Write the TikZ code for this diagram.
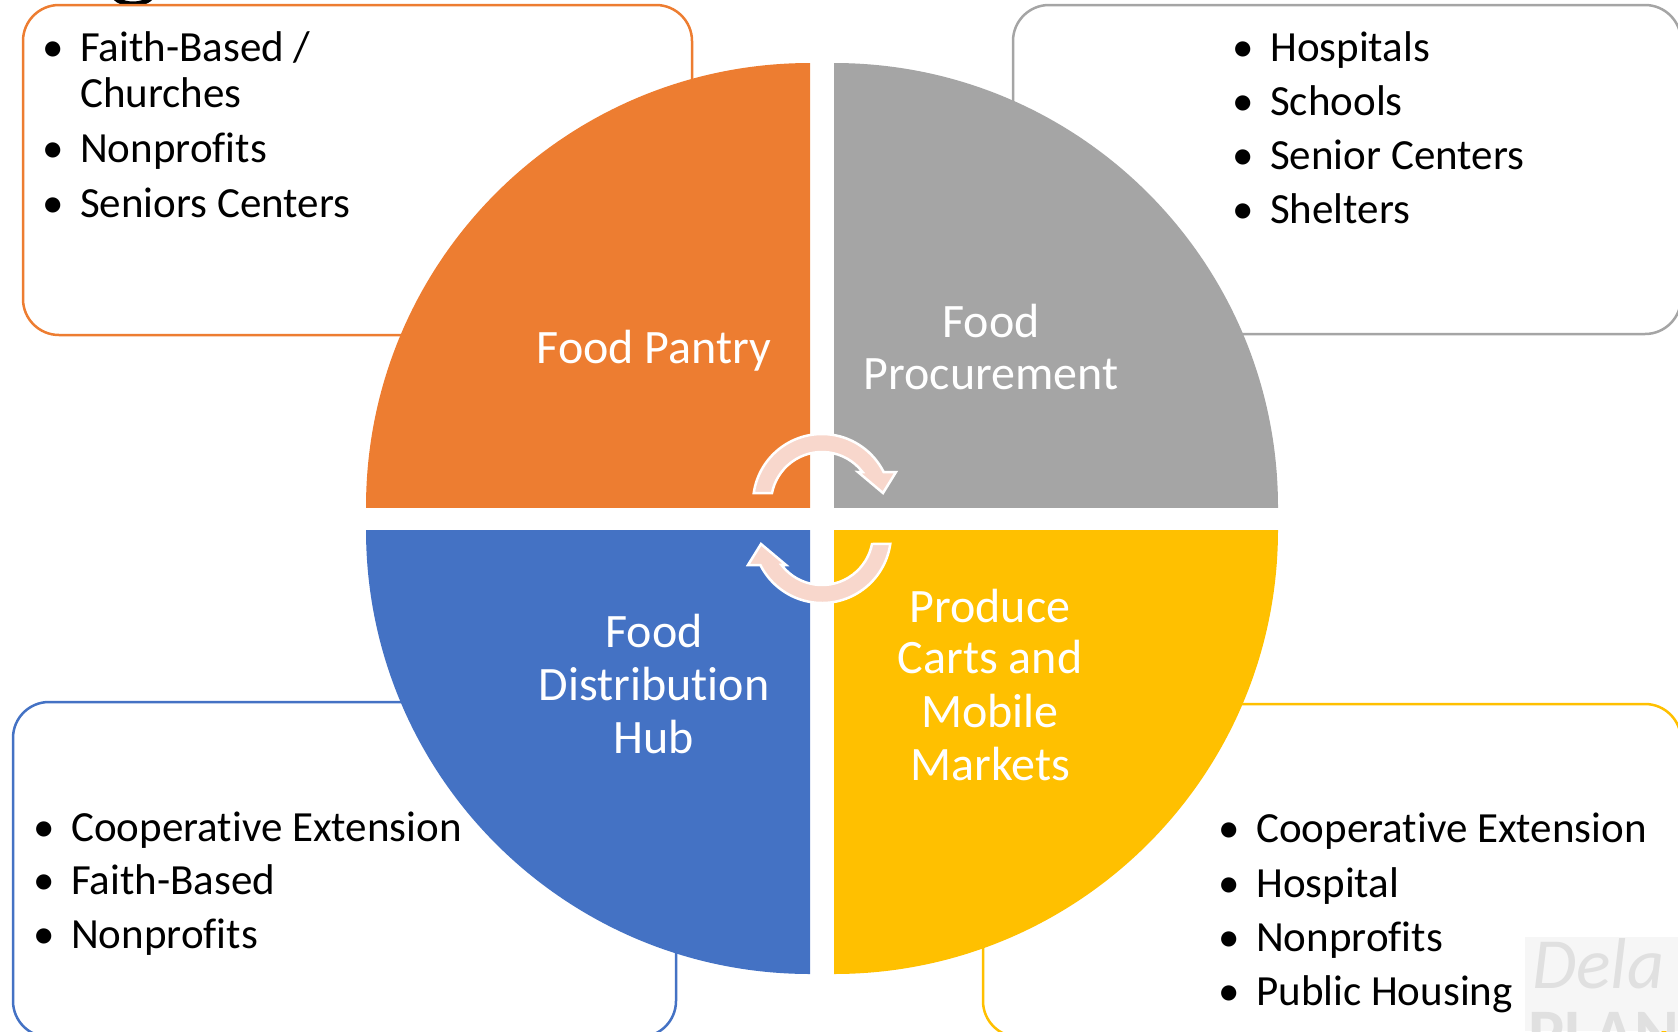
\documentclass[tikz,border=0pt]{standalone}
\usepackage{fontspec}
\setmainfont{Carlito}[Ligatures={NoCommon}]
\definecolor{cOrange}{HTML}{ED7D31}
\definecolor{cGray}{HTML}{A5A5A5}
\definecolor{cBlue}{HTML}{4472C4}
\definecolor{cYellow}{HTML}{FFC000}
\definecolor{cArrow}{HTML}{F8D7CC}
\definecolor{cWm}{HTML}{E0E0E0}
\definecolor{cWmBg}{HTML}{F6F6F6}
\tikzset{
  listbox/.style={rounded corners=36pt, line width=2.5pt, fill=white},
  bul/.style={anchor=base, inner sep=0pt, font=\fontsize{43}{52}\selectfont},
  itm/.style={anchor=base west, inner sep=0pt, font=\fontsize{43}{52}\selectfont},
  lab/.style={anchor=base, inner sep=0pt, text=white, font=\fontsize{48}{52}\selectfont},
  cyclearrow/.style={fill=cArrow, draw=white, line width=2.5pt, line join=miter}
}
\begin{document}
\begin{tikzpicture}[x=1pt,y=-1pt]
\useasboundingbox (0,0) rectangle (1678,1031);
% partial title letter at top
\draw[line width=5pt] (133,-9) ++(20:21 and 13) arc[start angle=20,end angle=160,x radius=21,y radius=13];
% list boxes
\draw[listbox, draw=cOrange] (23,5) rectangle (692,335);
\draw[listbox, draw=cGray] (1013,5) rectangle (1681,334);
\draw[listbox, draw=cBlue] (13,702) rectangle (676,1037);
\draw[listbox, draw=cYellow] (983,704) rectangle (1681,1037);
% quarter circles
\begin{scope}\clip (300,0) rectangle (810,507); \fill[cOrange] (810,507) circle (444); \end{scope}
\begin{scope}\clip (834,0) rectangle (1400,507); \fill[cGray] (834,507) circle (444); \end{scope}
\begin{scope}\clip (300,530) rectangle (810,1031); \fill[cBlue] (810,530) circle (444); \end{scope}
\begin{scope}\clip (834,530) rectangle (1400,1031); \fill[cYellow] (834,530) circle (444); \end{scope}
% cycle arrows
\begin{scope}[shift={(822,503)}]
\draw[cyclearrow] (-171.7:69) arc[start angle=-171.7,end angle=-26.7,radius=69]
  -- (74,-31) -- (61,-10) -- (36,-31) -- (-37.4:51)
  arc[start angle=-37.4,end angle=-168.7,radius=51] -- cycle;
\end{scope}
\begin{scope}[shift={(822,534)},rotate=180]
\draw[cyclearrow] (-171.7:69) arc[start angle=-171.7,end angle=-26.7,radius=69]
  -- (74,-31) -- (61,-10) -- (36,-31) -- (-37.4:51)
  arc[start angle=-37.4,end angle=-168.7,radius=51] -- cycle;
\end{scope}
% quadrant labels
\node[lab] (lp) at (654,363) {Food Pantry};
\node[lab] (lr1) at (991,337) {Food};
\node[lab] (lr2) at (991,389) {Procurement};
\node[lab] (lh1) at (654,647) {Food};
\node[lab] (lh2) at (654,700) {Distribution};
\node[lab] (lh3) at (654,753) {Hub};
\node[lab] (lm1) at (990,622) {Produce};
\node[lab] (lm2) at (990,673) {Carts and};
\node[lab] (lm3) at (990,727) {Mobile};
\node[lab] (lm4) at (990,780) {Markets};
% top-left list
\node[bul] (tl1b) at (53,61) {•};
\node[itm] (tl1) at (80,61) {Faith-Based /};
\node[itm] (tl1c) at (80,107) {Churches};
\node[bul] (tl2b) at (53,162) {•};
\node[itm] (tl2) at (80,162) {Nonprofits};
\node[bul] (tl3b) at (53,217) {•};
\node[itm] (tl3) at (80,217) {Seniors Centers};
% top-right list
\node[bul] (tr1b) at (1243,61) {•};
\node[itm] (tr1) at (1270,61) {Hospitals};
\node[bul] (tr2b) at (1243,115) {•};
\node[itm] (tr2) at (1270,115) {Schools};
\node[bul] (tr3b) at (1243,169) {•};
\node[itm] (tr3) at (1270,169) {Senior Centers};
\node[bul] (tr4b) at (1243,223) {•};
\node[itm] (tr4) at (1270,223) {Shelters};
% bottom-left list
\node[bul] (bl1b) at (44,841) {•};
\node[itm] (bl1) at (71,841) {Cooperative Extension};
\node[bul] (bl2b) at (44,894) {•};
\node[itm] (bl2) at (71,894) {Faith-Based};
\node[bul] (bl3b) at (44,948) {•};
\node[itm] (bl3) at (71,948) {Nonprofits};
% bottom-right list
\node[bul] (br1b) at (1229,842) {•};
\node[itm] (br1) at (1256,842) {Cooperative Extension};
\node[bul] (br2b) at (1229,897) {•};
\node[itm] (br2) at (1256,897) {Hospital};
\node[bul] (br3b) at (1229,951) {•};
\node[itm] (br3) at (1256,951) {Nonprofits};
\node[bul] (br4b) at (1229,1005) {•};
\node[itm] (br4) at (1256,1005) {Public Housing};
% watermark
\fill[cWmBg] (1525,937) rectangle (1678,1031);
\node[anchor=base west, inner sep=0pt, text=cWm, font=\fontsize{72}{80}\selectfont\itshape] (wm1) at (1532,988) {Dela};
\node[anchor=base west, inner sep=0pt, text=cWm, font=\fontsize{68}{70}\selectfont\bfseries] (wm2) at (1528,1056) {PLAN};
\end{tikzpicture}
\end{document}
